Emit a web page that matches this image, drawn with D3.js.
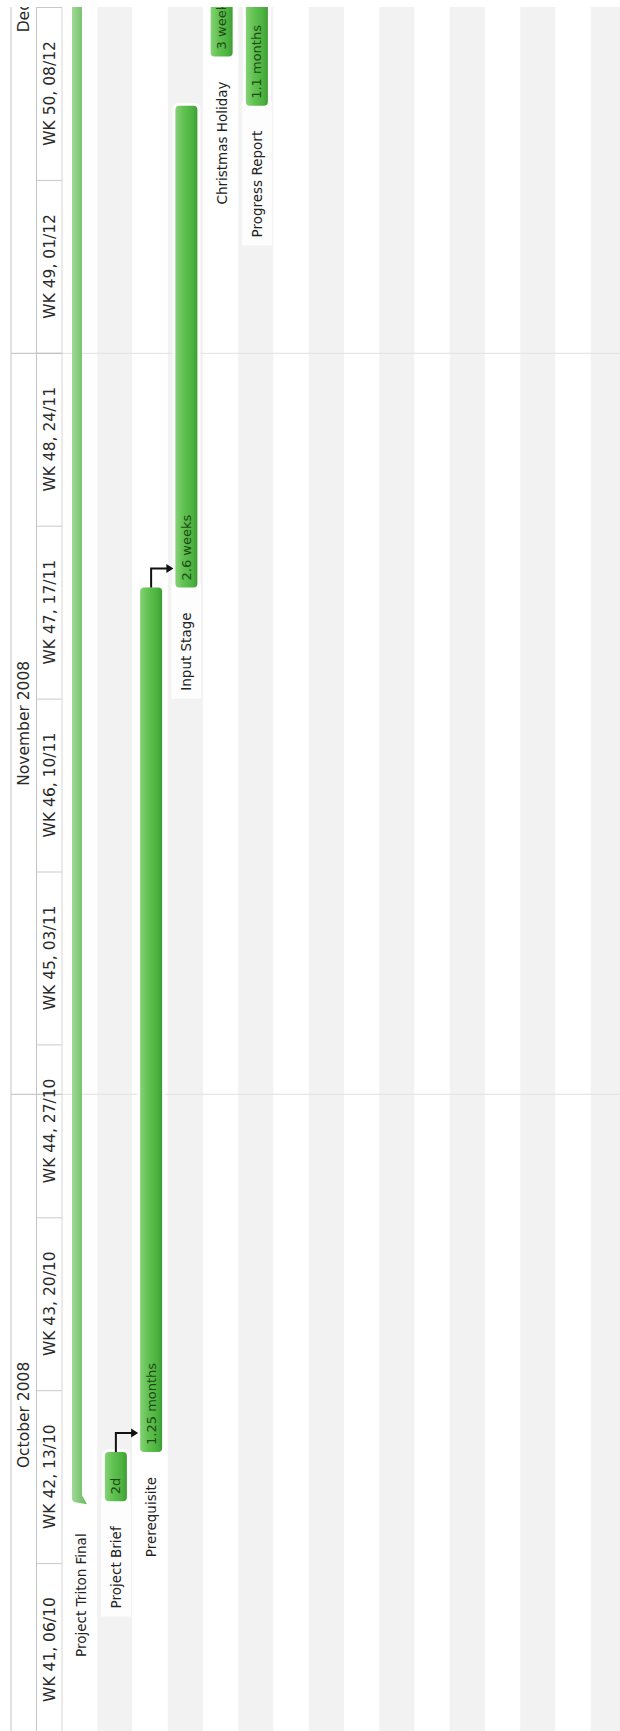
<!DOCTYPE html>
<html><head><meta charset="utf-8">
<script src="https://cdn.jsdelivr.net/npm/d3@7"></script>
<style>body{margin:0;background:#fff}svg{display:block}text{font-family:"DejaVu Sans",sans-serif}</style>
</head><body><svg id="c" width="620" height="1731"></svg>
<script>
// ---- data ----
const tasks = ["Project Triton Final","Project Brief","Prerequisite","Input Stage","Christmas Holiday","Progress Report"];
const starts = ["2008-10-15 12:00","2008-10-15 12:00","2008-10-17 12:00","2008-11-21 12:00","2008-12-13 00:00","2008-12-11 00:00"];
const ends = ["2009-01-11 00:00","2008-10-17 12:00","2008-11-21 12:00","2008-12-11 00:00","2009-01-03 00:00","2009-01-11 00:00"];
const durations = ["","2d","1.25 months","2.6 weeks","3 weeks","1.1 months"];
const isSummary = [true,false,false,false,false,false];
const dependencies = [[1,2],[2,3]];
const monthLabels = ["October 2008","November 2008","December 2008"];
const monthStarts = ["2008-10-01 00:00","2008-11-01 00:00","2008-12-01 00:00"];
const viewStart = "2008-10-06 00:00", viewEnd = "2008-12-15 00:00", labelViewEnd = "2009-01-01 00:00";
const rowCount = 16;

// ---- layout ----
const P = d3.utcParse("%Y-%m-%d %H:%M");
const W = 620, H = 1731, topY = 7, botY = H;
const hdrL = 11, hdrM = 36.5, hdrR = 62;
const svg = d3.select("#c");
const y = d3.scaleUtc().domain([P(viewStart), P(viewEnd)]).range([1736, 7]);
const x = d3.scaleBand().domain(d3.range(rowCount)).range([hdrR, hdrR + rowCount * 35.25]);
const bw = x.bandwidth(), barW = 22;
const barX = i => x(i) + (bw - barW) / 2 + 1;

const defs = svg.append("defs");
defs.append("clipPath").attr("id", "clip").append("rect")
  .attr("x", 0).attr("y", topY).attr("width", W).attr("height", botY - topY);
function grad(id, stops) {
  const lg = defs.append("linearGradient").attr("id", id).attr("x1", 0).attr("x2", 1).attr("y1", 0).attr("y2", 0);
  stops.forEach(s => lg.append("stop").attr("offset", s[0]).attr("stop-color", s[1]));
}
grad("gMain", [[0, "#86d278"], [0.35, "#62c252"], [0.8, "#4bb13e"], [1, "#3d9c33"]]);
grad("gSum", [[0, "#a2d898"], [0.5, "#82c977"], [1, "#6cb862"]]);

const g = svg.append("g").attr("clip-path", "url(#clip)");

// row stripes
g.selectAll("rect.row").data(d3.range(rowCount)).join("rect")
  .attr("x", d => x(d)).attr("y", topY).attr("width", bw).attr("height", botY - topY)
  .attr("fill", d => d % 2 ? "#f2f2f2" : "#ffffff");

// header background
g.append("rect").attr("x", hdrL).attr("y", topY).attr("width", hdrR - hdrL).attr("height", botY - topY).attr("fill", "#fff");

// month boundaries
const monthBounds = d3.utcMonth.range(P(viewStart), P(labelViewEnd));
g.selectAll("line.mchart").data(monthBounds).join("line")
  .attr("x1", hdrR).attr("x2", W).attr("y1", d => y(d) + 0.5).attr("y2", d => y(d) + 0.5)
  .attr("stroke", "#e2e2e2");

// week axis (divider lines in the week column)
const mondays = d3.utcMonday.range(P(viewStart), d3.utcDay.offset(P(viewEnd), 1));
const wk = g.append("g").attr("transform", `translate(${hdrM},0)`)
  .call(d3.axisRight(y).tickValues(mondays).tickSize(hdrR - hdrM).tickFormat(""));
wk.select(".domain").remove();
wk.selectAll(".tick line").attr("stroke", "#c9c9c9");

// month axis lines in header
const mAx = g.append("g").attr("transform", `translate(${hdrL},0)`)
  .call(d3.axisRight(y).tickValues(monthBounds).tickSize(hdrR - hdrL).tickFormat(""));
mAx.select(".domain").remove();
mAx.selectAll(".tick line").attr("stroke", "#bdbdbd");

// header vertical lines
[hdrL, hdrM, hdrR].forEach((xx, k) => g.append("line").attr("x1", xx).attr("x2", xx).attr("y1", topY).attr("y2", botY)
  .attr("stroke", k === 2 ? "#d6d6d6" : "#c4c4c4"));

// week labels
const fmtWk = d3.utcFormat("WK %V, %d/%m");
g.selectAll("text.wk").data(mondays.slice(0, -1)).join("text")
  .attr("transform", d => `translate(49.5,${(y(d) + y(d3.utcWeek.offset(d, 1))) / 2}) rotate(-90)`)
  .attr("text-anchor", "middle").attr("dominant-baseline", "central")
  .attr("font-size", 15.5).attr("fill", "#2a2a2a").text(d => fmtWk(d));

// month labels (centred over the visible part of each month in the original view)
monthLabels.forEach((lab, i) => {
  const s = P(monthStarts[i]), e = d3.utcMonth.offset(s, 1);
  const a = Math.max(+s, +P(viewStart)), b = Math.min(+e, +P(labelViewEnd));
  g.append("text").attr("transform", `translate(24,${(y(a) + y(b)) / 2}) rotate(-90)`)
    .attr("text-anchor", "middle").attr("dominant-baseline", "central")
    .attr("font-size", 15.5).attr("fill", "#2a2a2a").text(lab);
});

// bars + labels
const labelGap = 25, sumGap = 32, labelFont = 13.5;
tasks.forEach((t, i) => {
  const ys = y(P(starts[i])), ye = y(P(ends[i]));
  const cx = isSummary[i] ? x(i) + 19 : barX(i) + barW / 2;
  const gap = isSummary[i] ? sumGap : labelGap;
  const lbl = g.append("text").attr("transform", `translate(${cx},${ys + gap}) rotate(-90)`)
    .attr("text-anchor", "end").attr("dominant-baseline", "central")
    .attr("font-size", labelFont).attr("fill", "#222").text(t);
  if (isSummary[i]) {
    const x0 = x(i) + 10, x1 = x0 + 10;
    g.append("path").attr("fill", "url(#gSum)")
      .attr("d", `M${x0},${ye}L${x1},${ye}L${x1},${ys - 6}L${x1 + 5},${ys + 3}L${x0 + 3},${ys + 1}Q${x0},${ys} ${x0},${ys - 3}Z`);
  } else {
    const bx = barX(i);
    const len = lbl.node().getComputedTextLength();
    // white backing behind label and bar
    g.insert("rect", () => lbl.node()).attr("x", bx - 4).attr("y", ys - 4).attr("width", barW + 8)
      .attr("height", gap + len + 12).attr("fill", "#ffffff").attr("opacity", 0.85);
    g.append("rect").attr("x", bx - 3).attr("y", ye - 3).attr("width", barW + 6).attr("height", ys - ye + 6)
      .attr("rx", 6).attr("fill", "#ffffff").attr("opacity", 0.8);
    g.append("rect").attr("x", bx).attr("y", ye).attr("width", barW).attr("height", ys - ye)
      .attr("rx", 4).attr("fill", "url(#gMain)");
    g.append("text").attr("transform", `translate(${bx + barW / 2},${ys - 7}) rotate(-90)`)
      .attr("text-anchor", "start").attr("dominant-baseline", "central")
      .attr("font-size", 13).attr("fill", "#1d4a13").text(durations[i]);
  }
});

// dependency connectors
dependencies.forEach(([a, b]) => {
  const xc = barX(a) + barW / 2, y0 = y(P(ends[a])), y1 = y(P(starts[b])) - 19, x2 = barX(b) - 2;
  g.append("path").attr("d", `M${xc},${y0}V${y1}H${x2 - 6}`).attr("fill", "none")
    .attr("stroke", "#111").attr("stroke-width", 2);
  g.append("path").attr("d", `M${x2 - 7},${y1 - 4.5}L${x2},${y1}L${x2 - 7},${y1 + 4.5}Z`).attr("fill", "#111");
});
</script></body></html>
